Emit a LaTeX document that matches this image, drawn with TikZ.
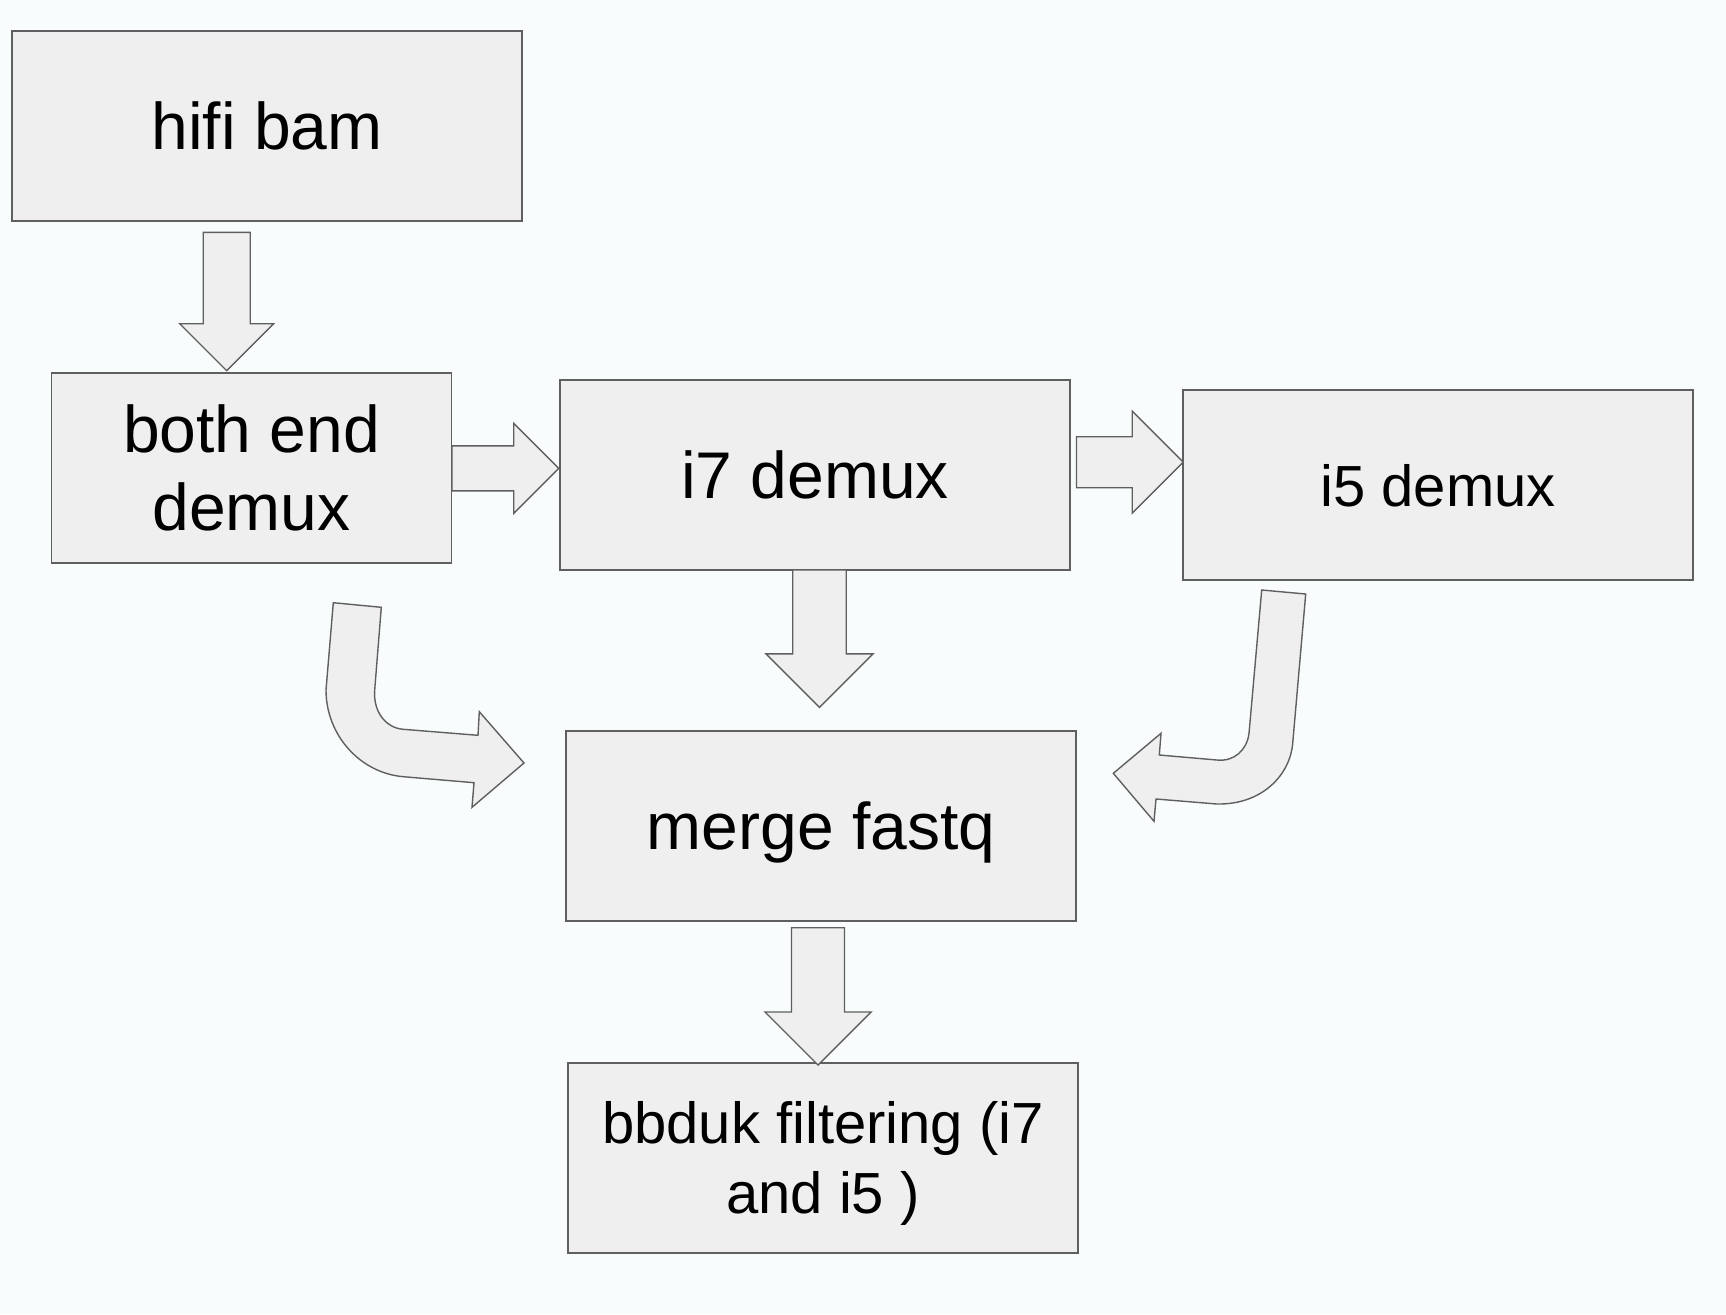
\documentclass[tikz,border=0pt]{standalone}
\usepackage{fontspec}
\setmainfont{Liberation Sans}
\usepackage{tikz}
\usetikzlibrary{positioning}
\definecolor{pagebg}{HTML}{F8FCFD}
\definecolor{boxfill}{HTML}{EFEFEF}
\definecolor{boxline}{HTML}{5F5F5F}
\tikzset{
  block/.style={draw=boxline, fill=boxfill, line width=1.4pt, inner sep=0pt,
    minimum width=510pt, minimum height=190pt, align=center,
    font=\fontsize{66}{78}\selectfont},
  small block/.style={block, font=\fontsize{58}{70}\selectfont},
  one line/.style={text height=47pt, text depth=0pt},
  fat arrow/.style={draw=boxline, fill=boxfill, line width=1.4pt, line join=miter}
}
% tail, angle, length, shaft width
\newcommand{\fatarrow}[4]{%
  \draw[fat arrow, shift={(#1)}, rotate=#2] (0,-#4/2) -- ({#3-#4},-#4/2) -- ({#3-#4},-#4)
    -- (#3,0) -- ({#3-#4},#4) -- ({#3-#4},#4/2) -- (0,#4/2) -- cycle;}

\begin{document}
\begin{tikzpicture}[x=1pt, y=-1pt]
\path[fill=pagebg, use as bounding box] (0,0) rectangle (1726,1314);

\node[block, one line] (hifi) at (267,126) {hifi bam};
\node[block, minimum width=400pt] (both) at (251.5,468) {both end\\demux};
\node[block, one line] (i7) at (815,475) {i7 demux};
\node[small block, text height=42pt, text depth=0pt] (i5) at (1438,485) {i5 demux};
\node[block, one line] (merge) at (821,826) {merge fastq};
\node[small block] (bbduk) at (823,1158) {bbduk filtering (i7\\and i5 \smash{)}};

% straight arrows
\coordinate (hifi-out) at (226.7,232.3);
\coordinate (both-out) at (452,468.3);
\coordinate (i7-out) at (1076.5,462.2);
\coordinate (i7-down) at (819.5,570);
\coordinate (merge-out) at (818,927.7);
\fatarrow{hifi-out}{-90}{138.4}{47}
\fatarrow{both-out}{0}{106.7}{45}
\fatarrow{i7-out}{0}{106.7}{51}
\fatarrow{i7-down}{-90}{137.3}{53.5}
\fatarrow{merge-out}{-90}{137.3}{53}

% bent arrows into merge
\draw[fat arrow] (333.3,602.7) -- (381.3,607.3) -- (374.7,690)
  .. controls (373,712) and (386,728) .. (403.3,729.3) -- (478,735.3)
  -- (479.3,711.7) -- (524,763) -- (472,807.3) -- (474,782.7) -- (403.3,776.7)
  .. controls (360,773) and (326,735) .. (326,690) -- cycle;
\draw[fat arrow] (1261.7,590) -- (1305.7,594) -- (1292.7,743.3)
  .. controls (1290,775) and (1262,805) .. (1216.7,804) -- (1156,799)
  -- (1154,821.3) -- (1113.3,773.3) -- (1161,733.3) -- (1159.3,755) -- (1216.7,760)
  .. controls (1234,762) and (1247,750) .. (1249,733.3) -- cycle;
\end{tikzpicture}
\end{document}
